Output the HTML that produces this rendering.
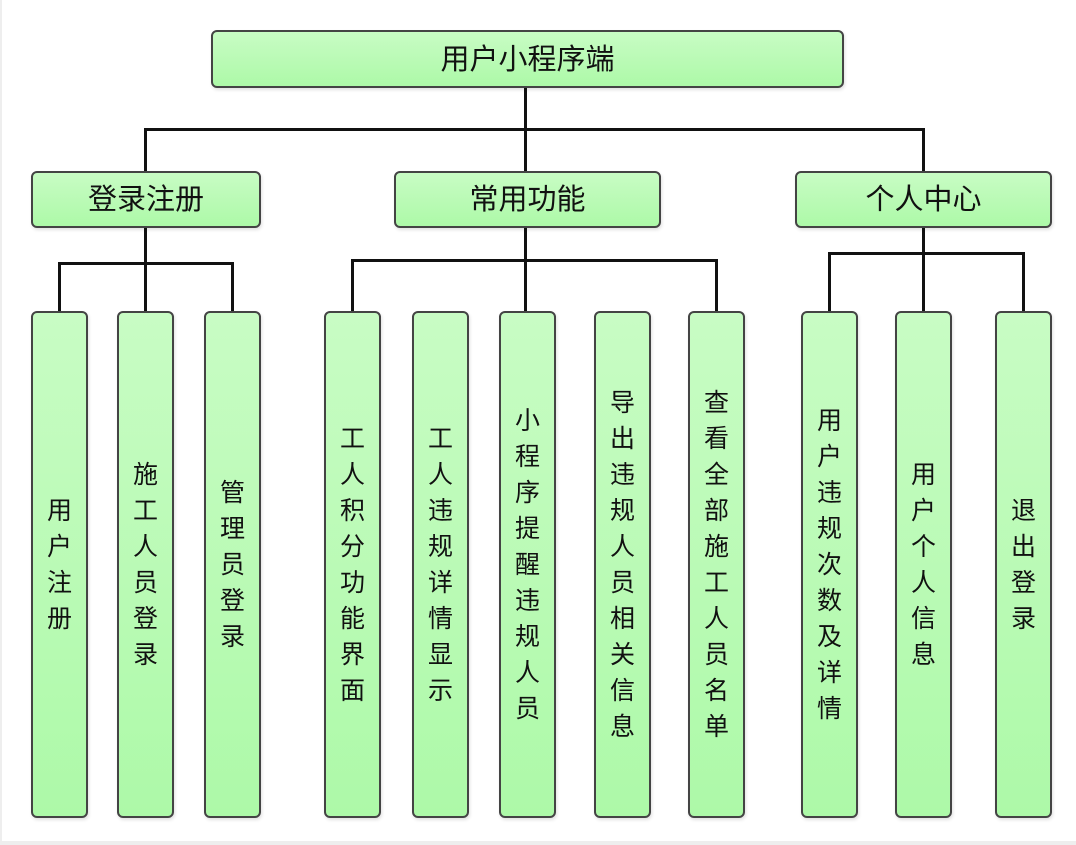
<!DOCTYPE html>
<html><head><meta charset="utf-8"><style>
html,body{margin:0;padding:0}
body{width:1076px;height:845px;position:relative;background:#fff;overflow:hidden;font-family:"Liberation Sans","Noto Sans CJK SC",sans-serif;color:#111}
.b{position:absolute;box-sizing:border-box;border:2px solid #444;border-radius:6px;background:linear-gradient(#c8fcc4,#adf9a8);display:flex;align-items:center;justify-content:center;box-shadow:1px 2px 3px rgba(0,0,0,.12)}
.h{font-size:29px;padding-bottom:5px}
.v{font-size:25px;line-height:36px;text-align:center;width:30px;word-break:break-all}
.l{position:absolute;background:#111}
</style></head><body>
<div style="position:absolute;left:0;top:0;width:2px;height:845px;background:#eee"></div>
<div style="position:absolute;left:0;top:841px;width:1076px;height:4px;background:#eee"></div>

<div class="l" style="left:524px;top:86px;width:3px;height:86px"></div>
<div class="l" style="left:144px;top:128px;width:781px;height:3px"></div>
<div class="l" style="left:144px;top:128px;width:3px;height:44px"></div>
<div class="l" style="left:922px;top:128px;width:3px;height:44px"></div>

<div class="l" style="left:144px;top:226px;width:3px;height:86px"></div>
<div class="l" style="left:58px;top:262px;width:176px;height:3px"></div>
<div class="l" style="left:58px;top:262px;width:3px;height:50px"></div>
<div class="l" style="left:231px;top:262px;width:3px;height:50px"></div>

<div class="l" style="left:524px;top:226px;width:3px;height:86px"></div>
<div class="l" style="left:351px;top:259px;width:367px;height:3px"></div>
<div class="l" style="left:351px;top:259px;width:3px;height:53px"></div>
<div class="l" style="left:715px;top:259px;width:3px;height:53px"></div>

<div class="l" style="left:922px;top:226px;width:3px;height:86px"></div>
<div class="l" style="left:828px;top:252px;width:197px;height:3px"></div>
<div class="l" style="left:828px;top:252px;width:3px;height:60px"></div>
<div class="l" style="left:1022px;top:252px;width:3px;height:60px"></div>

<div class="b h" style="left:211px;top:30px;width:633px;height:58px">用户小程序端</div>
<div class="b h" style="left:31px;top:171px;width:230px;height:57px">登录注册</div>
<div class="b h" style="left:394px;top:171px;width:267px;height:57px">常用功能</div>
<div class="b h" style="left:795px;top:171px;width:257px;height:57px">个人中心</div>

<div class="b" style="left:31px;top:311px;width:57px;height:507px"><div class="v">用户注册</div></div>
<div class="b" style="left:117px;top:311px;width:57px;height:507px"><div class="v">施工人员登录</div></div>
<div class="b" style="left:204px;top:311px;width:57px;height:507px"><div class="v">管理员登录</div></div>
<div class="b" style="left:324px;top:311px;width:57px;height:507px"><div class="v">工人积分功能界面</div></div>
<div class="b" style="left:412px;top:311px;width:57px;height:507px"><div class="v">工人违规详情显示</div></div>
<div class="b" style="left:499px;top:311px;width:57px;height:507px"><div class="v">小程序提醒违规人员</div></div>
<div class="b" style="left:594px;top:311px;width:57px;height:507px"><div class="v">导出违规人员相关信息</div></div>
<div class="b" style="left:688px;top:311px;width:57px;height:507px"><div class="v">查看全部施工人员名单</div></div>
<div class="b" style="left:801px;top:311px;width:57px;height:507px"><div class="v">用户违规次数及详情</div></div>
<div class="b" style="left:895px;top:311px;width:57px;height:507px"><div class="v">用户个人信息</div></div>
<div class="b" style="left:995px;top:311px;width:57px;height:507px"><div class="v">退出登录</div></div>
</body></html>
